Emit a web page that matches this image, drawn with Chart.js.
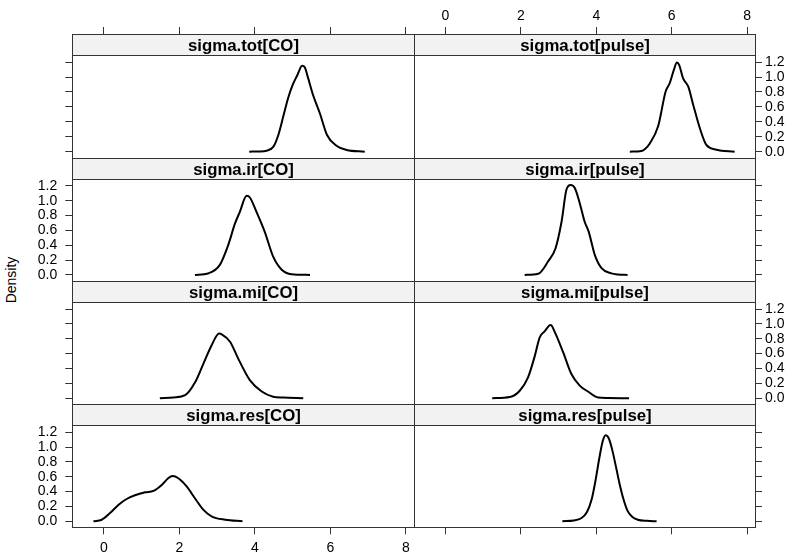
<!DOCTYPE html>
<html>
<head>
<meta charset="utf-8">
<script src="https://cdn.jsdelivr.net/npm/chart.js@4.4.1/dist/chart.umd.min.js"></script>
<style>
  html, body { margin: 0; padding: 0; background: #fff; }
  #wrap { position: relative; width: 794px; height: 555px; overflow: hidden; }
  #wrap canvas { position: absolute; left: 0; top: 0; }
  #ylab {
    position: absolute; left: 11px; top: 280px;
    transform: translate(-50%, -50%) rotate(-90deg);
    font: 14px 'Liberation Sans', Arial, sans-serif; color: #000; white-space: nowrap;
  }
</style>
</head>
<body>
<div id="wrap">
  <div id="ylab">Density</div>
</div>
<script>
// panel strips, in lattice order (left to right, top to bottom)
const panelNames = ['sigma.tot[CO]', 'sigma.tot[pulse]', 'sigma.ir[CO]', 'sigma.ir[pulse]',
                    'sigma.mi[CO]', 'sigma.mi[pulse]', 'sigma.res[CO]', 'sigma.res[pulse]'];

const xTicks = [0, 2, 4, 6, 8];
const yTicks = [0, 0.2, 0.4, 0.6, 0.8, 1.0, 1.2];

// density curves
const totCOx = [3.85, 4.10, 4.31, 4.49, 4.62, 4.75, 4.88, 5.00, 5.12, 5.25, 5.32, 5.41, 5.54, 5.72, 5.91, 6.16, 6.43, 6.91];
const totCOy = [0, 0.003, 0.012, 0.067, 0.224, 0.47, 0.72, 0.895, 1.02, 1.15, 1.13, 0.985, 0.76, 0.515, 0.224, 0.08, 0.023, 0];

const totPulsex = [4.89, 5.20, 5.30, 5.42, 5.64, 5.84, 5.95, 6.06, 6.14, 6.20, 6.30, 6.44, 6.57, 6.75, 6.92, 7.19, 7.67];
const totPulsey = [0, 0.01, 0.04, 0.11, 0.34, 0.805, 0.92, 1.10, 1.195, 1.16, 0.985, 0.87, 0.63, 0.31, 0.09, 0.027, 0];

const irCOx = [2.41, 2.76, 3.07, 3.29, 3.47, 3.60, 3.78, 3.87, 4.04, 4.26, 4.48, 4.71, 4.97, 5.46];
const irCOy = [0, 0.02, 0.135, 0.40, 0.69, 0.85, 1.065, 1.04, 0.85, 0.58, 0.25, 0.07, 0.01, 0];

const irPulsex = [2.10, 2.46, 2.72, 2.92, 3.08, 3.21, 3.32, 3.43, 3.56, 3.69, 3.80, 3.96, 4.14, 4.40, 4.58, 4.83];
const irPulsey = [0, 0.015, 0.18, 0.36, 0.72, 1.15, 1.21, 1.17, 0.97, 0.72, 0.58, 0.27, 0.09, 0.02, 0.005, 0];

const miCOx = [1.48, 1.84, 2.15, 2.41, 2.63, 2.85, 3.05, 3.12, 3.34, 3.56, 3.87, 4.18, 4.48, 4.75, 5.28];
const miCOy = [0, 0.01, 0.04, 0.21, 0.46, 0.71, 0.87, 0.86, 0.76, 0.53, 0.24, 0.09, 0.02, 0.008, 0];

const miPulsex = [1.24, 1.71, 1.97, 2.19, 2.37, 2.50, 2.63, 2.79, 2.90, 3.12, 3.34, 3.56, 3.78, 4.05, 4.30, 4.87];
const miPulsey = [0, 0.015, 0.10, 0.28, 0.57, 0.82, 0.90, 0.985, 0.89, 0.62, 0.325, 0.17, 0.09, 0.01, 0.003, 0];

const resCOx = [-0.28, -0.06, 0.16, 0.38, 0.60, 0.82, 1.09, 1.31, 1.53, 1.70, 1.82, 1.97, 2.19, 2.41, 2.63, 2.85, 3.21, 3.67];
const resCOy = [0, 0.02, 0.11, 0.22, 0.30, 0.35, 0.39, 0.41, 0.49, 0.58, 0.61, 0.58, 0.47, 0.31, 0.157, 0.067, 0.02, 0];

const resPulsex = [3.10, 3.40, 3.60, 3.75, 3.88, 3.98, 4.08, 4.17, 4.25, 4.33, 4.42, 4.52, 4.62, 4.72, 4.83, 4.95, 5.10, 5.35, 5.60];
const resPulsey = [0, 0.01, 0.04, 0.12, 0.30, 0.55, 0.85, 1.08, 1.16, 1.12, 0.97, 0.74, 0.50, 0.30, 0.14, 0.06, 0.02, 0.005, 0];

const curves = [[totCOx, totCOy], [totPulsex, totPulsey], [irCOx, irCOy], [irPulsex, irPulsey],
                [miCOx, miCOy], [miPulsex, miPulsey], [resCOx, resCOy], [resPulsex, resPulsey]];

// layout of the lattice
const W = 794, H = 555;
const xRange = [-0.84, 8.21];
const yRange = [-0.082, 1.295];
const colEdges = [[72.3, 413.8], [413.8, 755]];
const stripTops = [34, 157.8, 281, 404.3];
const panelBottoms = [157.8, 281, 404.3, 527.3];
const stripH = 21;
const FONT = "'Liberation Sans', Arial, Helvetica, sans-serif";

const stripPlugin = {
  id: 'strip',
  afterDraw(chart, args, opts) {
    const ctx = chart.ctx, a = chart.chartArea;
    const l = Math.round(a.left) + 0.5, r = Math.round(a.right) + 0.5;
    const t = Math.round(a.top) + 0.5, b = Math.round(a.bottom) + 0.5;
    const st = Math.round(a.top - stripH) + 0.5;
    ctx.save();
    ctx.fillStyle = '#f2f2f2';
    ctx.fillRect(l, st, r - l, t - st);
    ctx.strokeStyle = '#333';
    ctx.lineWidth = 1;
    ctx.strokeRect(l, st, r - l, t - st);
    ctx.strokeRect(l, t, r - l, b - t);
    ctx.fillStyle = '#000';
    ctx.font = 'bold 16.8px ' + FONT;
    ctx.textAlign = 'center';
    ctx.textBaseline = 'middle';
    ctx.fillText(opts.label, (l + r) / 2, (st + t) / 2 + 1);
    ctx.restore();
  }
};

// size: fixed box size of the axis, so the plot area lands where the padding says
function axis(pos, show, labelled, ticksArr, range, fmt, pad, tickLen, size) {
  return {
    type: 'linear',
    display: show,
    position: pos,
    min: range[0],
    max: range[1],
    afterBuildTicks: s => { s.ticks = ticksArr.map(v => ({ value: v })); },
    afterFit: s => { if (s.isHorizontal()) s.height = size; else s.width = size; },
    grid: { drawOnChartArea: false, drawTicks: true, tickLength: tickLen, color: '#333', lineWidth: 1 },
    border: { display: false },
    ticks: {
      color: '#000',
      font: { family: FONT, size: 14 },
      padding: pad,
      autoSkip: false,
      maxRotation: 0,
      callback: v => labelled ? fmt(v) : ''
    }
  };
}

const wrap = document.getElementById('wrap');
const fmtX = v => String(v);
const fmtY = v => v.toFixed(1);

panelNames.forEach(function (name, i) {
  const row = Math.floor(i / 2), col = i % 2;
  const [xs, ys] = curves[i];
  const left = colEdges[col][0], right = colEdges[col][1];
  const top = stripTops[row] + stripH, bottom = panelBottoms[row];
  const pad = { left: left, top: top, right: W - right, bottom: H - bottom };

  const canvas = document.createElement('canvas');
  canvas.width = W;
  canvas.height = H;
  wrap.appendChild(canvas);

  // x axis only on the outer rows; the top one reaches over the strip (strip covers the inner part)
  let xAxis;
  if (row === 0) {
    xAxis = axis('top', true, col === 1, xTicks, xRange, fmtX, 2.5, 7 + stripH, top);
    pad.top = 0;
  } else if (row === 3) {
    xAxis = axis('bottom', true, col === 0, xTicks, xRange, fmtX, 5, 7, H - bottom);
    pad.bottom = 0;
  } else {
    xAxis = axis('bottom', false, false, xTicks, xRange, fmtX, 5, 7, 0);
  }

  // y axis on the outer side of each column, labels alternate between sides
  const yLabelled = (col === 0) ? (row % 2 === 1) : (row % 2 === 0);
  let yAxis;
  if (col === 0) {
    yAxis = axis('left', true, yLabelled, yTicks, yRange, fmtY, 8, 7, left);
    pad.left = 0;
  } else {
    yAxis = axis('right', true, yLabelled, yTicks, yRange, fmtY, 3, 7, W - right);
    pad.right = 0;
  }

  new Chart(canvas.getContext('2d'), {
    type: 'line',
    data: {
      datasets: [{
        data: xs.map((x, k) => ({ x: x, y: ys[k] })),
        borderColor: '#000',
        borderWidth: 2,
        pointRadius: 0,
        fill: false,
        cubicInterpolationMode: 'monotone'
      }]
    },
    options: {
      responsive: false,
      animation: false,
      events: [],
      layout: { padding: pad },
      scales: { x: xAxis, y: yAxis },
      plugins: {
        legend: { display: false },
        tooltip: { enabled: false },
        strip: { label: name }
      }
    },
    plugins: [stripPlugin]
  });
});
</script>
</body>
</html>
